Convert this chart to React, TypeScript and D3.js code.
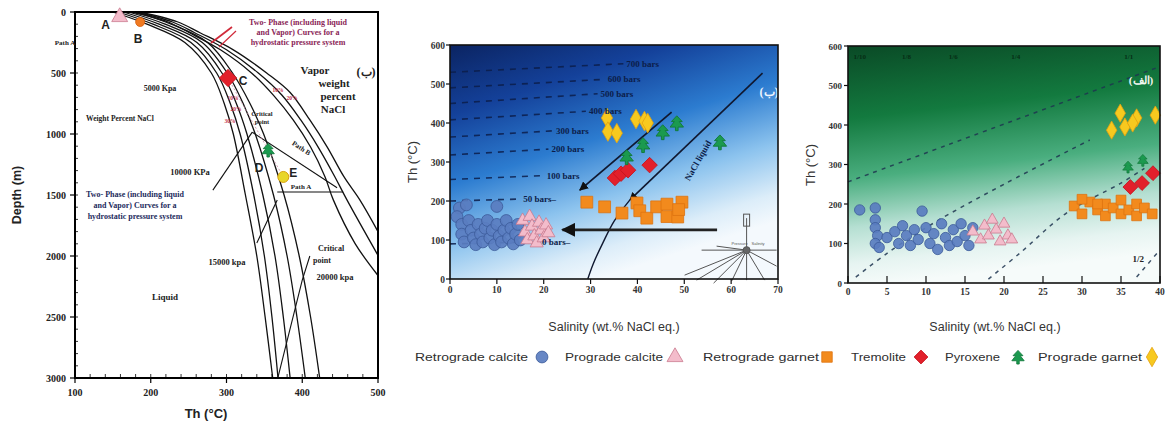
import React from 'react';
import * as d3 from 'd3';

type Pt = [number, number];

// ---------- Left panel: boiling curves, Th (°C) against depth (m) ----------
const depthTicks = [0, 500, 1000, 1500, 2000, 2500, 3000];
const thTicksLeft = [100, 200, 300, 400, 500];

const liquidCurves: Pt[][] = [
  [[150, 0], [195, 100], [245, 250], [280, 500], [297, 750], [309, 1000], [325, 1500], [340, 2000], [351, 2500], [361, 3000]],
  [[157, 0], [203, 100], [253, 250], [287, 500], [305, 750], [318, 1000], [336, 1500], [350, 2000], [360, 2500], [368, 3000]],
  [[164, 0], [211, 100], [261, 250], [294, 500], [313, 750], [327, 1000], [348, 1500], [364, 2000], [375, 2500], [384, 3000]],
  [[171, 0], [219, 100], [268, 250], [301, 500], [322, 750], [338, 1000], [362, 1500], [380, 2000], [393, 2500], [404, 3000]],
  [[178, 0], [227, 100], [275, 250], [308, 500], [331, 750], [349, 1000], [376, 1500], [396, 2000], [411, 2500], [423, 3000]],
];

const vaporCurves: Pt[][] = [
  [[185, 0], [235, 80], [265, 170], [309, 310], [353, 500], [384, 660], [410, 885], [433, 1107], [455, 1350], [476, 1540], [500, 1800]],
  [[180, 0], [228, 80], [258, 170], [300, 310], [342, 500], [373, 680], [398, 885], [421, 1107], [443, 1350], [459, 1540], [500, 1995]],
  [[175, 0], [222, 80], [251, 170], [292, 310], [333, 500], [363, 690], [388, 885], [411, 1107], [430, 1350], [441, 1540], [470, 1900], [500, 2160]],
];

// straight path / isobar segments
const pathSegments: Pt[][] = [
  [[334, 985], [446, 1440]],
  [[334, 985], [282, 1460]],
  [[367, 1475], [454, 1475]],
  [[340, 1893], [367, 1541]],
  [[368, 2992], [400, 2197], [410, 2000]],
];

// fluid-inclusion groups A–E
const groupLabels = ['A', 'B', 'C', 'D', 'E'];
const groupTh = [159, 186, 302, 355, 375];
const groupDepth = [41, 82, 541, 1131, 1352];

// ---------- Middle panel: salinity vs Th with isobars ----------
const salTicksMid = [0, 10, 20, 30, 40, 50, 60, 70];
const thTicks = [0, 100, 200, 300, 400, 500, 600];

const isobarNames = ['0 bars', '50 bars', '100 bars', '200 bars', '300 bars', '400 bars', '500 bars', '600 bars', '700 bars'];
const isobarStartTh = [90, 200, 255, 318, 364, 408, 450, 490, 530];
const isobarEndSal = [19, 15, 20, 21, 22, 29, 31.5, 33, 37];
const isobarEndTh = [95, 205, 265, 333, 380, 430, 475, 512, 552];

const retroCalciteMid: Pt[] = [
  [2, 182], [3.5, 190], [10, 186], [1.5, 160], [2.5, 140], [2.5, 115], [3, 95], [4, 150], [4.5, 125], [5, 105],
  [5.5, 88], [6, 140], [6.5, 115], [7, 95], [7.5, 130], [8, 150], [8.5, 105], [9, 125], [9.5, 88], [10, 140],
  [10.5, 110], [11, 95], [11.5, 125], [12, 150], [12.5, 105], [13, 130], [13.5, 90], [14, 115], [14.5, 140], [15, 100],
];
const proCalciteMid: Pt[] = [
  [15.5, 150], [16, 120], [16.5, 100], [17, 160], [17.5, 135], [18, 110], [18.5, 92], [19, 145], [19.5, 125], [20, 105], [20.5, 138], [21, 118],
];
const retroGarnetMid: Pt[] = [
  [29.2, 197], [33, 185], [36.7, 169], [39.9, 195], [40.5, 175], [42, 156], [44.1, 185], [46.3, 192], [46.3, 160], [48.6, 159], [49.5, 197], [48.8, 178],
];
const tremoliteMid: Pt[] = [[35.2, 259], [36.5, 270], [38, 279], [42.6, 292]];
const pyroxeneMid: Pt[] = [[48.4, 400], [45.4, 377], [41.2, 344], [37.7, 313], [57.6, 351]];
const proGarnetMid: Pt[] = [[33.5, 413], [33.7, 378], [35.6, 374], [39.7, 410], [41.5, 405], [42.2, 400]];

// trends drawn as arrows
const trendArrow1: Pt[] = [[47.3, 428], [27.7, 228]];
const trendArrow2: Pt[] = [[66.7, 528], [38.4, 203]];
const haliteCurve: Pt[] = [[38.4, 203], [35, 148], [32.6, 92], [30.6, 40], [29.4, 0]];
const coolingArrow: Pt[] = [[57, 126], [24, 126]];
const roseCentre: Pt = [63.3, 74];

// ---------- Right panel: salinity vs Th with mixing / dilution lines ----------
const salTicksRight = [0, 5, 10, 15, 20, 25, 30, 35, 40];
const trendLines: Pt[][] = [
  [[0, 256], [12.7, 349], [40, 548]],
  [[1, 15], [5, 75], [11, 152], [20, 250], [31, 362]],
  [[18, 10], [22, 75], [28, 177], [35, 253], [38, 290]],
  [[37, 15], [40, 84]],
];
const topLabels = ['1/10', '1/8', '1/6', '1/4', '1/1'];
const topLabelSal = [1.5, 7.5, 13.5, 21.5, 36];

const retroCalciteRight: Pt[] = [
  [1.5, 185], [3.5, 190], [9.5, 182], [3.5, 160], [3.5, 140], [3.8, 120], [3.5, 100], [4, 90], [5, 115], [6, 130],
  [6.5, 100], [7, 145], [7.5, 120], [8, 95], [8.5, 135], [9, 110], [10, 140], [10.5, 100], [11, 125], [11.5, 85],
  [12, 150], [12.5, 115], [13, 95], [13.5, 135], [14, 105], [14.5, 150], [15, 120], [15.5, 95], [16, 140],
];
const proCalciteRight: Pt[] = [
  [16, 130], [17, 110], [17.5, 145], [18, 120], [19, 135], [19.5, 105], [20, 150], [20.5, 120], [21, 110], [18.5, 160],
];
const retroGarnetRight: Pt[] = [
  [29, 195], [30, 175], [31, 205], [32, 185], [33, 170], [33, 200], [34, 190], [35, 175], [35, 210], [36, 185],
  [37, 170], [37, 200], [38, 190], [39, 175], [30, 212], [32, 200],
];
const tremoliteRight: Pt[] = [[36.2, 243], [37.7, 253], [39.1, 278]];
const pyroxeneRight: Pt[] = [[35.9, 294], [37.8, 311]];
const proGarnetRight: Pt[] = [[34.9, 430], [37, 418], [39.4, 425], [33.8, 387], [35.5, 395], [36.5, 405]];

// legend
const legendNames = ['Retrograde calcite', 'Prograde calcite', 'Retrograde garnet', 'Tremolite', 'Pyroxene', 'Prograde garnet'];
const legendTextX = [415, 565, 703, 851, 945, 1038];
const legendTextW = [113, 98, 116, 55, 55, 104];
const legendMarkX = [542, 675, 827, 921, 1018, 1152];

// ---------- scales ----------
const xL = d3.scaleLinear().domain([100, 500]).range([75, 378]);
const yL = d3.scaleLinear().domain([0, 3000]).range([12, 378]);
const xM = d3.scaleLinear().domain([0, 70]).range([450, 778]);
const yM = d3.scaleLinear().domain([0, 600]).range([279, 45]);
const xR = d3.scaleLinear().domain([0, 40]).range([848, 1160]);
const yR = d3.scaleLinear().domain([0, 600]).range([283, 46]);

const SERIF = "'Liberation Serif', 'DejaVu Serif', serif";
const SANS = "'Liberation Sans', Arial, sans-serif";

type Kind = 'rc' | 'pc' | 'rg' | 'tr' | 'py' | 'pg';
const kindOrder: Kind[] = ['rc', 'pc', 'rg', 'tr', 'py', 'pg'];

const styles: Record<Kind, { fill: string; stroke: string }> = {
  rc: { fill: '#5a7dc0', stroke: '#3b5a99' },
  pc: { fill: '#f3bccb', stroke: '#c97a8e' },
  rg: { fill: '#f28a1d', stroke: '#de7410' },
  tr: { fill: '#e2202b', stroke: '#c4121c' },
  py: { fill: '#1b9a4f', stroke: '#127a3c' },
  pg: { fill: '#f7c91f', stroke: '#e3a10f' },
};

const treePath = 'M0,-6L4.5,-1.2H2L5.6,3.4H1.1V6.4H-1.1V3.4H-5.6L-2,-1.2H-4.5Z';

function markerPath(kind: Kind, size: number): string {
  const sym = d3.symbol();
  switch (kind) {
    case 'rc': return sym.type(d3.symbolCircle).size(size)() as string;
    case 'pc': return sym.type(d3.symbolTriangle).size(size)() as string;
    case 'rg': return sym.type(d3.symbolSquare).size(size)() as string;
    case 'tr': return sym.type(d3.symbolSquare).size(size)() as string;
    case 'pg': return sym.type(d3.symbolDiamond).size(size)() as string;
    default: return treePath;
  }
}

function Marker({ kind, x, y, size, k = 1 }: { kind: Kind; x: number; y: number; size: number; k?: number }) {
  const s = styles[kind];
  const rot = kind === 'tr' ? ' rotate(45)' : '';
  const sc = kind === 'py' ? ` scale(${k})` : '';
  return (
    <path
      d={markerPath(kind, size)}
      transform={`translate(${x},${y})${rot}${sc}`}
      fill={s.fill}
      stroke={s.stroke}
      strokeWidth={0.8}
      fillOpacity={kind === 'rc' ? 0.92 : 1}
    />
  );
}

const curveLine = (xs: d3.ScaleLinear<number, number>, ys: d3.ScaleLinear<number, number>) =>
  d3.line<Pt>().x((d) => xs(d[0])).y((d) => ys(d[1])).curve(d3.curveCatmullRom.alpha(0.5));
const straight = (xs: d3.ScaleLinear<number, number>, ys: d3.ScaleLinear<number, number>) =>
  d3.line<Pt>().x((d) => xs(d[0])).y((d) => ys(d[1]));

function LeftPanel() {
  const lc = curveLine(xL, yL);
  const ln = straight(xL, yL);
  const minorDepth = d3.range(0, 3001, 100);
  const minorTh = d3.range(100, 501, 20);
  return (
    <g>
      <rect x={75} y={12} width={303} height={366} fill="#fff" />
      {liquidCurves.map((c, i) => (
        <path key={'l' + i} d={lc(c) as string} fill="none" stroke="#111" strokeWidth={1.3} />
      ))}
      {vaporCurves.map((c, i) => (
        <path key={'v' + i} d={lc(c) as string} fill="none" stroke="#111" strokeWidth={1.3} />
      ))}
      {pathSegments.map((c, i) => (
        <path key={'p' + i} d={ln(c) as string} fill="none" stroke="#111" strokeWidth={1.1} />
      ))}
      {/* thin connector through the inclusion groups */}
      <path
        d={ln(groupTh.slice(2).map((t, i) => [t, groupDepth[i + 2]] as Pt)) as string}
        fill="none"
        stroke="#c98aa6"
        strokeWidth={0.8}
        strokeDasharray="2,2"
      />
      {/* red leader lines */}
      <line x1={232} y1={27} x2={211} y2={43} stroke="#d02a3a" strokeWidth={1.6} />
      <line x1={236} y1={31} x2={219} y2={47} stroke="#d02a3a" strokeWidth={1.2} />
      {/* frame */}
      <rect x={75} y={12} width={303} height={366} fill="none" stroke="#000" strokeWidth={2} />
      {minorDepth.map((d) => (
        <line key={'md' + d} x1={75} x2={78} y1={yL(d)} y2={yL(d)} stroke="#000" strokeWidth={0.8} />
      ))}
      {minorTh.map((t) => (
        <line key={'mt' + t} x1={xL(t)} x2={xL(t)} y1={378} y2={374} stroke="#000" strokeWidth={0.8} />
      ))}
      {depthTicks.map((d) => (
        <g key={'dt' + d}>
          <line x1={70} x2={75} y1={yL(d)} y2={yL(d)} stroke="#000" strokeWidth={1.2} />
          <text x={66} y={yL(d) + 3.5} textAnchor="end" fontFamily={SERIF} fontWeight="bold" fontSize={10} fill="#222">
            {d}
          </text>
        </g>
      ))}
      {thTicksLeft.map((t) => (
        <g key={'tt' + t}>
          <line x1={xL(t)} x2={xL(t)} y1={378} y2={383} stroke="#000" strokeWidth={1.2} />
          <text x={xL(t)} y={396} textAnchor="middle" fontFamily={SERIF} fontWeight="bold" fontSize={10} fill="#222">
            {t}
          </text>
        </g>
      ))}
      <text transform="translate(21,195) rotate(-90)" textAnchor="middle" fontFamily={SANS} fontWeight="bold" fontSize={12.5} fill="#222">
        Depth (m)
      </text>
      <text x={206} y={418} textAnchor="middle" fontFamily={SANS} fontWeight="bold" fontSize={13} fill="#222">
        Th (°C)
      </text>

      {/* inclusion groups */}
      <Marker kind="pc" x={xL(groupTh[0])} y={yL(groupDepth[0])} size={110} />
      <circle cx={xL(groupTh[1])} cy={yL(groupDepth[1])} r={4.5} fill="#f07a22" stroke="#d8600e" strokeWidth={0.8} />
      <Marker kind="tr" x={xL(groupTh[2])} y={yL(groupDepth[2])} size={150} />
      <Marker kind="py" x={xL(groupTh[3])} y={yL(groupDepth[3])} size={0} k={1.1} />
      <circle cx={xL(groupTh[4])} cy={yL(groupDepth[4])} r={5.5} fill="#e8d62a" stroke="#d9a210" strokeWidth={1} />
      {groupLabels.map((g, i) => {
        const off: Pt[] = [[-14, 12], [-2, 21], [15, 7], [-9, 22], [10, 0]];
        return (
          <text key={g} x={xL(groupTh[i]) + off[i][0]} y={yL(groupDepth[i]) + off[i][1]} textAnchor="middle" fontFamily={SANS} fontWeight="bold" fontSize={12} fill="#222">
            {g}
          </text>
        );
      })}

      {/* annotations */}
      <g fontFamily={SERIF} fontWeight="bold" fill="#222">
        <text x={65} y={45} fontSize={7} textAnchor="middle">Path A</text>
        <g fill="#8a2456" fontSize={8} textAnchor="middle">
          <text x={298} y={25}>Two- Phase (including liquid</text>
          <text x={298} y={35}>and Vapor) Curves for a</text>
          <text x={298} y={45}>hydrostatic pressure system</text>
        </g>
        <text x={366} y={76} fontSize={12} textAnchor="middle">(ب)</text>
        <g fontSize={11} textAnchor="middle">
          <text x={315} y={74}>Vapor</text>
          <text x={334} y={87}>weight</text>
          <text x={338} y={100}>percent</text>
          <text x={333} y={113}>NaCl</text>
        </g>
        <text x={160} y={91} fontSize={8} textAnchor="middle">5000 Kpa</text>
        <text x={120} y={121} fontSize={7.5} textAnchor="middle">Weight Percent NaCl</text>
        <g fontSize={6.5} textAnchor="middle">
          <text x={262} y={116}>Critical</text>
          <text x={262} y={124}>point</text>
        </g>
        <text transform="translate(300,150) rotate(33)" fontSize={7} textAnchor="middle">Path B</text>
        <text x={301} y={189} fontSize={7} textAnchor="middle">Path A</text>
        <text x={190} y={175} fontSize={8.5} textAnchor="middle">10000 KPa</text>
        <g fill="#1c2a5c" fontSize={8} textAnchor="middle">
          <text x={135} y={197}>Two- Phase (including liquid</text>
          <text x={135} y={208}>and Vapor) Curves for a</text>
          <text x={135} y={219}>hydrostatic pressure system</text>
        </g>
        <text x={227} y={265} fontSize={8.5} textAnchor="middle">15000 kpa</text>
        <text x={331} y={251} fontSize={8} textAnchor="middle">Critical</text>
        <text x={322} y={263} fontSize={8} textAnchor="middle">point</text>
        <text x={335} y={280} fontSize={8.5} textAnchor="middle">20000 kpa</text>
        <text x={165} y={300} fontSize={9} textAnchor="middle">Liquid</text>
        <g fill="#c2304a" fontSize={5.5} textAnchor="middle">
          <text x={233} y={100}>10%</text>
          <text x={236} y={111}>20%</text>
          <text x={230} y={123}>30%</text>
          <text x={278} y={92}>10%</text>
          <text x={292} y={100}>20%</text>
        </g>
      </g>
    </g>
  );
}

function MiddlePanel() {
  const ln = straight(xM, yM);
  const lc = curveLine(xM, yM);
  const rays: Pt[] = [[0, -32], [-45, 0], [30, 0], [-62, 25], [-50, 30], [-33, 33], [-15, 31], [0, 30], [18, 30], [30, 16], [-30, -4]];
  const [cx, cy] = [xM(roseCentre[0]), yM(roseCentre[1])];
  return (
    <g>
      <defs>
        <linearGradient id="blueBg" x1="0" y1="0" x2="0.45" y2="1">
          <stop offset="0" stopColor="#0b2462" />
          <stop offset="0.25" stopColor="#14419a" />
          <stop offset="0.5" stopColor="#2c7cd0" />
          <stop offset="0.72" stopColor="#8cc3ee" />
          <stop offset="0.9" stopColor="#dcedf9" />
          <stop offset="1" stopColor="#f4f9fd" />
        </linearGradient>
        <marker id="arrowK" viewBox="0 0 10 10" refX="9" refY="5" markerWidth="5" markerHeight="5" orient="auto">
          <path d="M0,0L10,5L0,10Z" fill="#111" />
        </marker>
      </defs>
      <rect x={450} y={45} width={328} height={234} fill="url(#blueBg)" />
      {/* isobars */}
      {isobarNames.map((n, i) => {
        const pts: Pt[] = [[0, isobarStartTh[i]], [isobarEndSal[i], isobarEndTh[i]]];
        return (
          <path key={n} d={ln(pts) as string} stroke="#0c1d4a" strokeWidth={1.6} strokeDasharray="6,6" fill="none" opacity={0.85} />
        );
      })}
      <path d={ln(trendArrow1) as string} stroke="#101830" strokeWidth={1.8} fill="none" markerEnd="url(#arrowK)" />
      <path d={ln(trendArrow2) as string} stroke="#101830" strokeWidth={1.6} fill="none" markerEnd="url(#arrowK)" />
      <path d={lc(haliteCurve) as string} stroke="#101830" strokeWidth={1.4} fill="none" />
      <text transform={`translate(${xM(53.5)},${yM(300)}) rotate(-60)`} fontFamily={SERIF} fontWeight="bold" fontSize={9} fill="#0c1d4a" textAnchor="middle">
        NaCl liquid
      </text>
      <path d={ln(coolingArrow) as string} stroke="#222" strokeWidth={2.8} fill="none" markerEnd="url(#arrowK)" />
      {/* diagram rose */}
      <g stroke="#555" strokeWidth={1} fill="none">
        {rays.map((r, i) => (
          <line key={i} x1={cx} y1={cy} x2={cx + r[0]} y2={cy + r[1]} />
        ))}
        <rect x={cx - 3} y={cy - 36} width={6} height={12} />
        <circle cx={cx} cy={cy} r={3.5} fill="#666" />
      </g>
      <text x={cx - 15} y={cy - 5} fontFamily={SANS} fontSize={4} fill="#555">Pressure</text>
      <text x={cx + 5} y={cy - 5} fontFamily={SANS} fontSize={4} fill="#555">Salinity</text>

      {retroCalciteMid.map((d, i) => <Marker key={'rc' + i} kind="rc" x={xM(d[0])} y={yM(d[1])} size={110} />)}
      {proCalciteMid.map((d, i) => <Marker key={'pc' + i} kind="pc" x={xM(d[0])} y={yM(d[1])} size={75} />)}
      {retroGarnetMid.map((d, i) => <Marker key={'rg' + i} kind="rg" x={xM(d[0])} y={yM(d[1])} size={140} />)}
      {tremoliteMid.map((d, i) => <Marker key={'tr' + i} kind="tr" x={xM(d[0])} y={yM(d[1])} size={120} />)}
      {pyroxeneMid.map((d, i) => <Marker key={'py' + i} kind="py" x={xM(d[0])} y={yM(d[1])} size={0} k={1.2} />)}
      {proGarnetMid.map((d, i) => <Marker key={'pg' + i} kind="pg" x={xM(d[0])} y={yM(d[1])} size={110} />)}

      {/* isobar labels drawn above the inclusion data */}
      {isobarNames.map((n, i) => (
        <text key={'t' + n} x={xM(isobarEndSal[i]) + 3} y={yM(isobarEndTh[i]) + 3} fontFamily={SERIF} fontWeight="bold" fontSize={9} fill="#0c1d4a">
          {n + (i < 2 ? '–' : '')}
        </text>
      ))}

      <text x={769} y={96} fontFamily={SERIF} fontWeight="bold" fontSize={12} fill="#eef4ff" textAnchor="middle">(ب)</text>

      <rect x={450} y={45} width={328} height={234} fill="none" stroke="#111" strokeWidth={1.6} />
      {thTicks.map((t) => (
        <g key={'y' + t}>
          <line x1={446} x2={450} y1={yM(t)} y2={yM(t)} stroke="#111" strokeWidth={1.2} />
          <text x={445} y={yM(t) + 3.5} textAnchor="end" fontFamily={SERIF} fontWeight="bold" fontSize={9.5} fill="#333">{t}</text>
        </g>
      ))}
      {salTicksMid.map((s) => (
        <g key={'x' + s}>
          <line x1={xM(s)} x2={xM(s)} y1={279} y2={284} stroke="#111" strokeWidth={1.2} />
          <text x={xM(s)} y={293} textAnchor="middle" fontFamily={SERIF} fontWeight="bold" fontSize={9.5} fill="#333">{s}</text>
        </g>
      ))}
      <text transform="translate(417,162) rotate(-90)" textAnchor="middle" fontFamily={SANS} fontSize={13} fill="#333">Th (°C)</text>
      <text x={614} y={331} textAnchor="middle" fontFamily={SANS} fontSize={12.5} fill="#333">Salinity (wt.% NaCl eq.)</text>
    </g>
  );
}

function RightPanel() {
  const lc = curveLine(xR, yR);
  return (
    <g>
      <defs>
        <linearGradient id="greenBg" x1="0" y1="0" x2="0.15" y2="1">
          <stop offset="0" stopColor="#0a4a26" />
          <stop offset="0.3" stopColor="#137a3f" />
          <stop offset="0.55" stopColor="#4aae7f" />
          <stop offset="0.75" stopColor="#b5dfd2" />
          <stop offset="0.9" stopColor="#e6f4f1" />
          <stop offset="1" stopColor="#f6fbfa" />
        </linearGradient>
      </defs>
      <rect x={848} y={46} width={312} height={237} fill="url(#greenBg)" />
      {trendLines.map((c, i) => (
        <path key={i} d={lc(c) as string} fill="none" stroke="#1f3550" strokeWidth={1.5} strokeDasharray="4,5" opacity={0.85} />
      ))}
      {topLabels.map((t, i) => (
        <text key={t} x={xR(topLabelSal[i])} y={59} fontFamily={SERIF} fontWeight="bold" fontSize={7} fill="#062d15" textAnchor="middle">{t}</text>
      ))}
      <text x={xR(37.2)} y={262} fontFamily={SERIF} fontWeight="bold" fontSize={9} fill="#222" textAnchor="middle">1/2</text>
      <text x={1141} y={84} fontFamily={SERIF} fontWeight="bold" fontSize={11} fill="#f2f7f2" textAnchor="middle">(الف)</text>

      {retroCalciteRight.map((d, i) => <Marker key={'rc' + i} kind="rc" x={xR(d[0])} y={yR(d[1])} size={85} />)}
      {proCalciteRight.map((d, i) => <Marker key={'pc' + i} kind="pc" x={xR(d[0])} y={yR(d[1])} size={60} />)}
      {retroGarnetRight.map((d, i) => <Marker key={'rg' + i} kind="rg" x={xR(d[0])} y={yR(d[1])} size={95} />)}
      {pyroxeneRight.map((d, i) => <Marker key={'py' + i} kind="py" x={xR(d[0])} y={yR(d[1])} size={0} k={0.95} />)}
      {tremoliteRight.map((d, i) => <Marker key={'tr' + i} kind="tr" x={xR(d[0])} y={yR(d[1])} size={110} />)}
      {proGarnetRight.map((d, i) => <Marker key={'pg' + i} kind="pg" x={xR(d[0])} y={yR(d[1])} size={95} />)}

      <rect x={848} y={46} width={312} height={237} fill="none" stroke="#111" strokeWidth={1.6} />
      {thTicks.map((t) => (
        <g key={'y' + t}>
          <line x1={844} x2={848} y1={yR(t)} y2={yR(t)} stroke="#111" strokeWidth={1.2} />
          <text x={842} y={yR(t) + 3.5} textAnchor="end" fontFamily={SERIF} fontWeight="bold" fontSize={9} fill="#333">{t}</text>
        </g>
      ))}
      {salTicksRight.map((s) => (
        <g key={'x' + s}>
          <line x1={xR(s)} x2={xR(s)} y1={283} y2={276} stroke="#111" strokeWidth={1.2} />
          <text x={xR(s)} y={295} textAnchor="middle" fontFamily={SERIF} fontWeight="bold" fontSize={9.5} fill="#333">{s}</text>
        </g>
      ))}
      <text transform="translate(815,165) rotate(-90)" textAnchor="middle" fontFamily={SANS} fontSize={13} fill="#333">Th (°C)</text>
      <text x={995} y={331} textAnchor="middle" fontFamily={SANS} fontSize={12.5} fill="#333">Salinity (wt.% NaCl eq.)</text>
    </g>
  );
}

function Legend() {
  return (
    <g>
      {legendNames.map((n, i) => (
        <g key={n}>
          <text
            x={legendTextX[i]}
            y={361}
            fontFamily={SANS}
            fontSize={11.5}
            fill="#2f2f2f"
            textLength={legendTextW[i]}
            lengthAdjust="spacingAndGlyphs"
          >
            {n}
          </text>
          <Marker kind={kindOrder[i]} x={legendMarkX[i]} y={357} size={kindOrder[i] === 'tr' ? 95 : 110} k={1.1} />
        </g>
      ))}
    </g>
  );
}

export default function App() {
  return (
    <svg width={1172} height={423} style={{ position: 'absolute', left: 0, top: 0, background: '#fff' }}>
      <rect width={1172} height={423} fill="#fff" />
      <LeftPanel />
      <MiddlePanel />
      <RightPanel />
      <Legend />
    </svg>
  );
}
